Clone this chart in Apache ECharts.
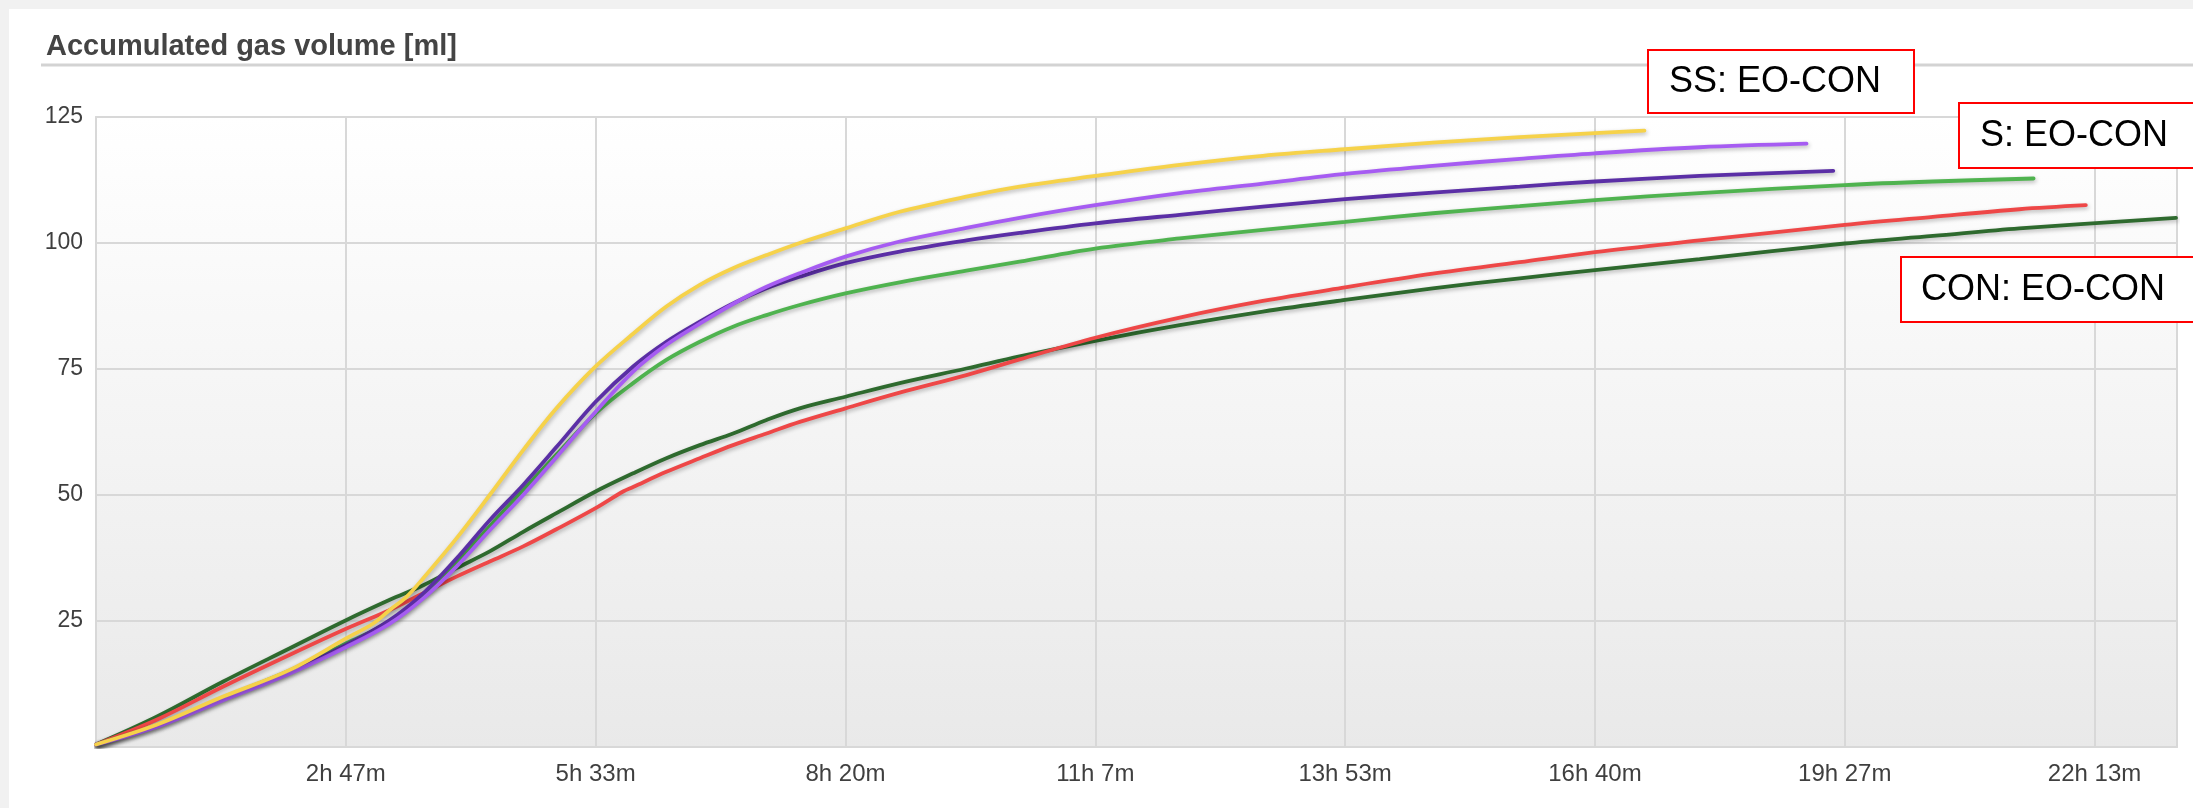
<!DOCTYPE html>
<html>
<head>
<meta charset="utf-8">
<script src="https://cdn.jsdelivr.net/npm/echarts@6/dist/echarts.min.js"></script>
<style>
  html, body { margin: 0; padding: 0; width: 2193px; height: 808px; background: #f1f1f1; overflow: hidden; }
  #panel { position: absolute; left: 9px; top: 9px; width: 2184px; height: 799px; background: #ffffff; }
  #chart { position: absolute; left: 0; top: 0; width: 2193px; height: 808px; }
</style>
</head>
<body>
<div id="panel"></div>
<div id="chart"></div>
<script>
// ---- Data: [time in seconds, accumulated gas volume in ml] ----
const yellowLine = [[0,0.5],[2425,4.4],[5095,10.0],[7760,15.3],[10030,21.6],[11100,24.5],[11760,27.2],[12430,29.8],[13100,33.5],[14430,41.4],[15760,50.0],[17100,58.9],[18430,67.2],[20000,75.5],[21500,82.0],[22830,87.4],[24170,91.7],[25500,95.0],[26840,97.6],[28170,100.0],[30000,102.9],[32170,106.2],[34840,109.2],[36970,111.2],[40000,113.3],[43380,115.5],[46710,117.3],[50000,118.6],[53510,119.9],[56990,121.0],[60000,121.8],[61980,122.3]];
const lightPurpleLine = [[0,0.5],[2425,4.0],[5095,9.3],[7760,14.6],[10030,19.9],[11760,24.5],[13100,29.5],[14430,35.8],[15760,43.0],[17100,50.0],[18430,57.5],[20000,66.5],[21500,74.5],[22830,79.8],[24170,84.0],[25500,87.9],[26840,91.3],[28170,94.0],[30000,97.3],[32170,100.3],[34840,103.0],[36970,105.0],[40000,107.5],[43380,109.9],[46710,111.8],[50000,113.7],[53510,115.3],[56990,116.7],[60000,117.8],[64190,119.0],[68470,119.7]];
const darkPurpleLine = [[0,0.5],[2425,4.2],[5095,9.7],[7760,15.0],[10030,20.3],[11760,25.2],[13100,30.5],[14430,37.4],[15760,45.0],[17100,52.0],[18430,59.5],[20000,68.5],[21500,75.5],[22830,80.4],[24170,84.4],[25500,88.0],[26840,91.0],[28170,93.3],[30000,96.0],[32170,98.3],[34840,100.5],[36970,102.0],[40000,103.9],[43380,105.6],[46710,107.2],[50000,108.7],[53510,110.0],[56990,111.2],[60000,112.2],[64190,113.3],[69540,114.3]];
const greenLine = [[0,0.5],[2425,4.3],[5095,9.8],[7760,15.2],[10030,20.6],[11760,24.9],[13100,30.0],[14430,36.6],[15760,43.8],[17100,51.0],[18430,58.0],[20000,66.2],[21500,72.2],[22830,76.8],[24170,80.4],[25500,83.4],[26840,85.7],[28170,87.7],[30000,90.0],[32170,92.2],[34840,94.5],[36970,96.3],[40000,98.9],[43380,100.9],[46710,102.6],[50000,104.2],[53510,105.9],[56990,107.3],[60000,108.5],[64190,109.9],[70000,111.5],[73530,112.2],[77560,112.8]];
const redLine = [[0,0.5],[2425,5.4],[5095,12.0],[7760,18.3],[10030,23.5],[11760,27.2],[13100,30.5],[14430,33.8],[15760,36.8],[17100,39.8],[18430,43.2],[20000,47.4],[21100,50.7],[21500,51.6],[22830,54.6],[24170,57.3],[25500,59.9],[26840,62.2],[28170,64.5],[30000,67.2],[32170,70.3],[34840,73.8],[36970,76.9],[40000,81.2],[43380,85.2],[46710,88.5],[50000,91.2],[53510,93.9],[56990,96.2],[60000,98.2],[64190,100.5],[70000,103.6],[73530,105.2],[76990,106.7],[79650,107.5]];
const darkGreenLine = [[0,0.5],[2425,6.0],[5095,13.0],[7760,19.6],[10030,25.2],[11760,29.2],[13100,32.1],[14430,35.5],[15760,38.8],[17100,42.7],[18430,46.4],[20000,50.7],[21500,54.3],[22830,57.3],[24170,59.9],[25500,62.2],[26840,64.9],[28170,67.2],[30000,69.5],[32170,72.2],[34840,75.1],[36970,77.5],[40000,80.6],[43380,83.7],[46710,86.4],[50000,88.7],[53510,91.0],[56990,93.0],[60000,94.6],[64190,96.8],[70000,99.9],[73530,101.4],[76990,102.9],[83260,105.0]];

const seriesNames = ['Yellow', 'Light purple', 'Dark purple', 'Green', 'Red', 'Dark green'];
const seriesColors = ['#f6d24a', '#a65cf2', '#5b2fa6', '#4fb34f', '#ee4747', '#2e6a2e'];
const seriesData = [yellowLine, lightPurpleLine, darkPurpleLine, greenLine, redLine, darkGreenLine];

const annotationLabels = ['SS: EO-CON', 'S: EO-CON', 'CON: EO-CON'];
const chartTitle = 'Accumulated gas volume [ml]';

const xInterval = 10000;  // seconds
const xMax = 83300;
const yMax = 125;
const yInterval = 25;

function fmtTime(v) {
  if (v === 0 || v % xInterval !== 0) return '';
  const totalMin = Math.round(v / 60);
  const h = Math.floor(totalMin / 60);
  const m = totalMin % 60;
  return h + 'h ' + m + 'm';
}

const FONT = '"Liberation Sans", Arial, Helvetica, sans-serif';
const chart = echarts.init(document.getElementById('chart'), null, { renderer: 'canvas' });

const boxes = [
  { x: 1648, y: 50, w: 266, h: 63, tx: 1669, ty: 82 },
  { x: 1959, y: 103, w: 240, h: 65, tx: 1980, ty: 136 },
  { x: 1901, y: 257, w: 300, h: 65, tx: 1921, ty: 290 }
];
const graphicEls = [
  { type: 'line', z: 1, shape: { x1: 41, y1: 65, x2: 2193, y2: 65 }, style: { stroke: '#d3d3d3', lineWidth: 3 } }
];
boxes.forEach((b, i) => {
  graphicEls.push({ type: 'rect', z: 100, shape: { x: b.x, y: b.y, width: b.w, height: b.h },
    style: { fill: '#ffffff', stroke: '#ff0000', lineWidth: 2 } });
  graphicEls.push({ type: 'text', z: 101, x: b.tx, y: b.ty,
    style: { text: annotationLabels[i], font: '36px ' + FONT, fill: '#000000', verticalAlign: 'middle', align: 'left' } });
});

chart.setOption({
  backgroundColor: 'transparent',
  animation: false,
  title: {
    text: chartTitle, left: 41, top: 27,
    textStyle: { fontSize: 29, fontWeight: 'bold', color: '#444444', fontFamily: FONT }
  },
  grid: {
    left: 96, right: 16, top: 117, bottom: 61, show: true,
    borderColor: '#dadada', borderWidth: 2,
    backgroundColor: new echarts.graphic.LinearGradient(0, 0, 0, 1, [
      { offset: 0, color: '#ffffff' }, { offset: 1, color: '#e9e9e9' }
    ])
  },
  xAxis: {
    type: 'value', min: 0, max: xMax, interval: xInterval,
    axisLine: { show: false }, axisTick: { show: false },
    splitLine: { show: true, lineStyle: { color: '#d8d8d8', width: 2 } },
    axisLabel: { formatter: fmtTime, fontSize: 24, color: '#3f3f3f', fontFamily: FONT, margin: 15, showMaxLabel: false }
  },
  yAxis: {
    type: 'value', min: 0, max: yMax, interval: yInterval,
    axisLine: { show: false }, axisTick: { show: false },
    splitLine: { show: true, lineStyle: { color: '#d8d8d8', width: 2 } },
    axisLabel: { formatter: v => (v === 0 ? '' : String(v)), fontSize: 23, color: '#3f3f3f', fontFamily: FONT, margin: 13 }
  },
  graphic: graphicEls,
  series: seriesData.map((d, i) => ({
    name: seriesNames[i], type: 'line', data: d, showSymbol: false, symbol: 'none',
    smooth: 0.35, z: 10 - i,
    lineStyle: { color: seriesColors[i], width: 3.8, cap: 'round',
      shadowColor: 'rgba(0,0,0,0.28)', shadowBlur: 4, shadowOffsetX: 1, shadowOffsetY: 2 },
    itemStyle: { color: seriesColors[i] }
  }))
});
</script>
</body>
</html>
